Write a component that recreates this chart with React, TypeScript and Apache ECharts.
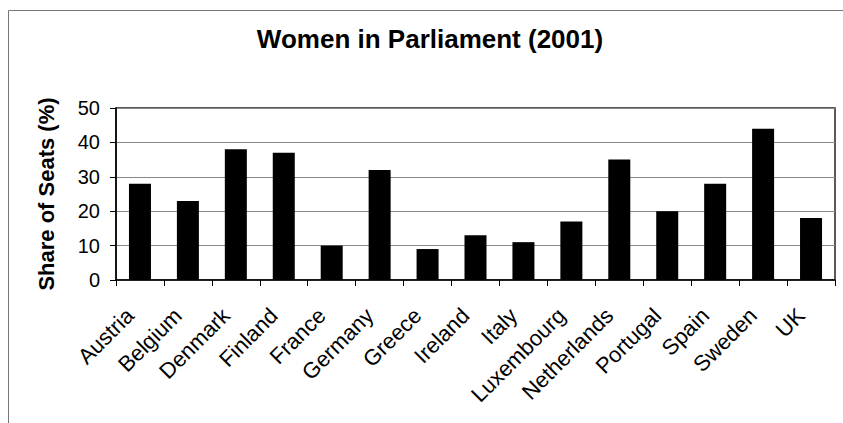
import React, { useEffect, useRef } from "react";
import * as echarts from "echarts";

const titleText = "Women in Parliament (2001)";
const yAxisName = "Share of Seats (%)";
const countries = [
  "Austria", "Belgium", "Denmark", "Finland", "France", "Germany", "Greece", "Ireland",
  "Italy", "Luxembourg", "Netherlands", "Portugal", "Spain", "Sweden", "UK",
];
const shares = [28, 23, 38, 37, 10, 32, 9, 13, 11, 17, 35, 20, 28, 44, 18];
const yMin = 0;
const yMax = 50;
const yStep = 10;

const FONT = "'Liberation Sans', Arial, sans-serif";

export default function App() {
  const ref = useRef<HTMLDivElement>(null);
  useEffect(() => {
    document.body.style.margin = "0";
    const chart = echarts.init(ref.current!, null, { renderer: "svg" });
    chart.setOption({
      animation: false,
      backgroundColor: "#ffffff",
      title: {
        text: titleText,
        left: 425,
        top: 21,
        textAlign: "center",
        textStyle: { fontFamily: FONT, fontSize: 26, fontWeight: "bold", color: "#000" },
      },
      graphic: [
        { type: "line", shape: { x1: 8.5, y1: 10.5, x2: 843, y2: 10.5 }, style: { stroke: "#777", lineWidth: 1 } },
        { type: "line", shape: { x1: 8.5, y1: 10.5, x2: 8.5, y2: 423 }, style: { stroke: "#777", lineWidth: 1 } },
      ],
      grid: {
        left: 116,
        right: 8,
        top: 108,
        bottom: 143,
        show: true,
        borderColor: "#222",
        borderWidth: 1.5,
        backgroundColor: "transparent",
      },
      xAxis: {
        type: "category",
        data: countries,
        axisLine: { lineStyle: { color: "#000", width: 1.5 } },
        axisTick: { show: true, inside: false, length: 6, lineStyle: { color: "#000" } },
        axisLabel: {
          rotate: 45,
          interval: 0,
          margin: 22,
          padding: [0, 14, 0, 0],
          fontFamily: FONT,
          fontSize: 22,
          color: "#000",
        },
      },
      yAxis: {
        type: "value",
        min: yMin,
        max: yMax,
        interval: yStep,
        name: yAxisName,
        nameLocation: "middle",
        nameGap: 59,
        nameTextStyle: { fontFamily: FONT, fontSize: 22, fontWeight: "bold", color: "#000" },
        axisLine: { show: true, lineStyle: { color: "#000", width: 1.5 } },
        axisTick: { show: true, length: 6, lineStyle: { color: "#000" } },
        axisLabel: { fontFamily: FONT, fontSize: 20, color: "#000", margin: 16 },
        splitLine: { show: true, lineStyle: { color: "#888", width: 1 } },
      },
      series: [
        {
          type: "bar",
          data: shares,
          barWidth: 22,
          itemStyle: { color: "#000" },
        },
      ],
    });
    return () => chart.dispose();
  }, []);
  return <div ref={ref} style={{ width: 843, height: 423 }} />;
}
